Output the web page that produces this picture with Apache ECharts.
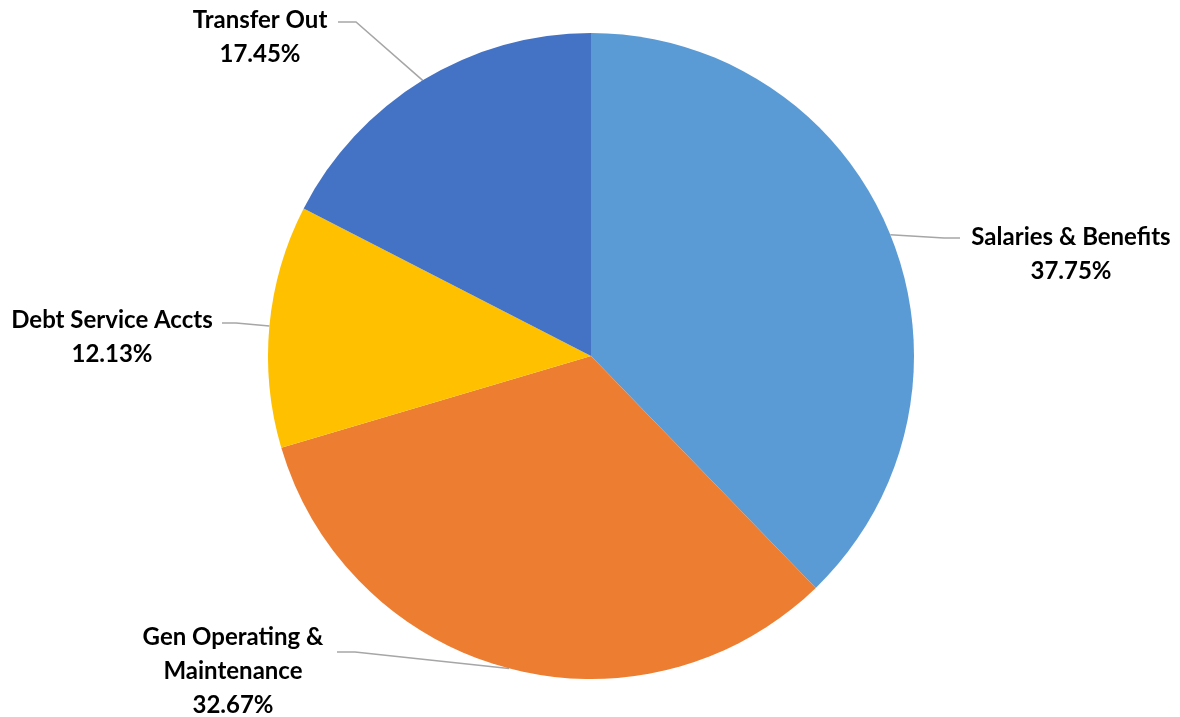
<!DOCTYPE html>
<html>
<head>
<meta charset="utf-8">
<script src="https://cdn.jsdelivr.net/npm/echarts@6/dist/echarts.min.js"></script>
<style>
  html, body { margin: 0; padding: 0; background: #fff; }
  #chart { width: 1180px; height: 717px; }
</style>
</head>
<body>
<div id="chart"></div>
<script>
// categories and shares (%)
var categories = ['Salaries & Benefits', 'Gen Operating &\nMaintenance', 'Debt Service Accts', 'Transfer Out'];
var shares = [37.75, 32.67, 12.13, 17.45];
var colors = ['#5B9BD5', '#ED7D31', '#FFC000', '#4472C4'];

// label placement (text top-centre) and where the leader line meets the label
var labelAnchor = [[1071, 220], [233, 620], [112, 303], [260, 3]];
var lineEnd = [[960, 238], [337, 652], [222, 323], [338, 22]];
var elbowDx = [-16, 18, 14, 18];

var pieData = [];
for (var i = 0; i < categories.length; i++) {
    pieData.push({ name: categories[i], value: shares[i], itemStyle: { color: colors[i] } });
}

var chart = echarts.init(document.getElementById('chart'));
chart.setOption({
    backgroundColor: '#fff',
    animation: false,
    series: [{
        type: 'pie',
        center: [591, 356],
        radius: 323,
        startAngle: 90,
        clockwise: true,
        data: pieData,
        label: {
            show: true,
            position: 'outside',
            formatter: '{b}\n{d}%',
            fontFamily: 'Lato',
            fontWeight: 'bold',
            fontSize: 24,
            lineHeight: 34,
            color: '#000',
            align: 'center'
        },
        labelLine: {
            show: true,
            length: 20,
            length2: 20,
            lineStyle: { color: '#A6A6A6', width: 1.5 }
        },
        labelLayout: function (params) {
            var k = params.dataIndex;
            var start = params.labelLinePoints[0];
            var end = lineEnd[k];
            return {
                x: labelAnchor[k][0],
                y: labelAnchor[k][1],
                align: 'center',
                verticalAlign: 'top',
                labelLinePoints: [start, [end[0] + elbowDx[k], end[1]], end]
            };
        }
    }]
});
</script>
</body>
</html>
